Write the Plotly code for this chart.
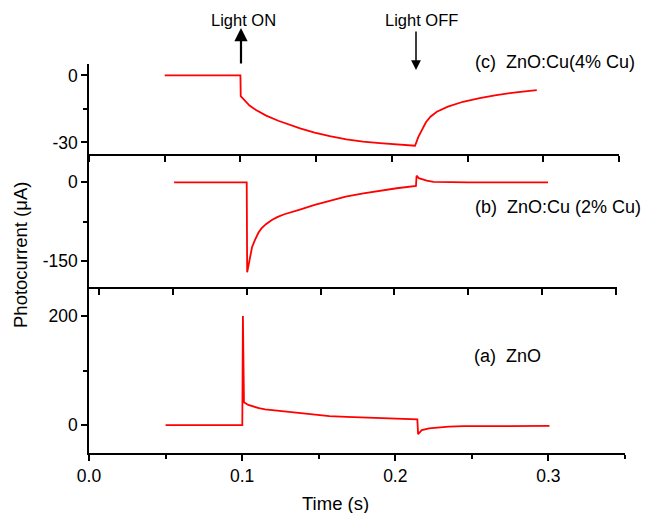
import plotly.graph_objects as go

# ---- data ----
# (a) ZnO
t_a = [0.05, 0.1001, 0.1005, 0.1012, 0.104, 0.1073, 0.111, 0.115, 0.12, 0.125, 0.131, 0.1378,
       0.147, 0.157, 0.168, 0.179, 0.19, 0.201, 0.2144, 0.2149, 0.2173, 0.222, 0.227,
       0.235, 0.2445, 0.27, 0.3007]
i_a = [0, 0, 200, 42, 37, 33.6, 31, 29, 27.5, 26, 24.3, 22.6,
       19.5, 16.5, 15.2, 14, 12.8, 11.6, 10.4, -16.5, -9.2, -6, -4.3,
       -2.8, -1.8, -1.5, -1.5]
# (b) ZnO:Cu (2% Cu)
t_b = [0.0508, 0.1, 0.1003, 0.1012, 0.1022, 0.1036, 0.1056, 0.108, 0.110, 0.113, 0.117,
       0.121, 0.1255, 0.131, 0.136, 0.146, 0.156, 0.167, 0.179, 0.19, 0.2016, 0.2146, 0.2150,
       0.2165, 0.219, 0.2219, 0.2265, 0.235, 0.25, 0.304]
i_b = [0, 0, -172, -158, -142, -124, -110, -96, -88, -80, -72,
       -66, -61, -57, -52, -43, -35, -27.5, -21, -16, -11.4, -7, 12.6,
       8, 5, 3, 0.8, 0.2, 0, 0]
# (c) ZnO:Cu (4% Cu)
t_c = [0.05, 0.1, 0.1002, 0.103, 0.106, 0.1103, 0.117, 0.125, 0.1394, 0.149, 0.159, 0.17,
       0.181, 0.192, 0.2034, 0.2153, 0.2175, 0.2198, 0.2225, 0.2255, 0.2297, 0.237, 0.247,
       0.258, 0.269, 0.282, 0.2957]
i_c = [0, 0, -9.3, -11.5, -13.5, -15.5, -18, -20.3, -23.7, -25.6, -27.2, -28.6,
       -29.7, -30.3, -30.8, -31.5, -27.5, -24.5, -21, -18.5, -16.3, -14, -11.8,
       -10.2, -8.8, -7.6, -6.6]

x_ticks = [0.0, 0.1, 0.2, 0.3]
x_tick_labels = ["0.0", "0.1", "0.2", "0.3"]
ya_ticks, ya_labels = [0, 200], ["0", "200"]
yb_ticks, yb_labels = [-150, 0], ["-150", "0"]
yc_ticks, yc_labels = [-30, 0], ["-30", "0"]

FONT = "Liberation Sans, Arial, sans-serif"
RED = "#FF0000"

fig = go.Figure()
fig.add_trace(go.Scatter(x=t_a, y=i_a, mode="lines", line=dict(color=RED, width=1.8),
                         xaxis="x", yaxis="y", showlegend=False))
fig.add_trace(go.Scatter(x=t_b, y=i_b, mode="lines", line=dict(color=RED, width=1.8),
                         xaxis="x2", yaxis="y2", showlegend=False))
fig.add_trace(go.Scatter(x=t_c, y=i_c, mode="lines", line=dict(color=RED, width=1.8),
                         xaxis="x3", yaxis="y3", showlegend=False))

ax_common = dict(showline=True, linecolor="black", linewidth=1.5, showgrid=False,
                 zeroline=False, ticks="outside", tickcolor="black", tickwidth=1.5,
                 ticklen=6, tickfont=dict(family=FONT, size=17.5, color="black"))
minor_common = dict(ticks="outside", ticklen=4, tickwidth=1.5, tickcolor="black")

ya_dom = [0, 0.4267]
yb_dom = [0.4267, 0.7686]
yc_dom = [0.7686, 1.0]

fig.update_layout(
    width=662, height=513,
    margin=dict(l=89, r=37, t=64, b=60),
    paper_bgcolor="white", plot_bgcolor="white",
    font=dict(family=FONT, color="black"),
    xaxis=dict(**ax_common, domain=[0, 1], range=[0, 0.35], anchor="y",
               tickvals=x_ticks, ticktext=x_tick_labels,
               minor=dict(dtick=0.05, tick0=0, **minor_common)),
    xaxis2=dict(**ax_common, domain=[0, 0.985], range=[-0.0068, 0.3507], anchor="y2",
                showticklabels=False, dtick=0.05, tick0=0),
    xaxis3=dict(**ax_common, domain=[0, 0.9888], range=[0, 0.35], anchor="y3",
                showticklabels=False, dtick=0.05, tick0=0),
    yaxis=dict(**ax_common, domain=ya_dom, range=[-51, 253], anchor="x",
               tickvals=ya_ticks, ticktext=ya_labels,
               minor=dict(dtick=100, tick0=0, **minor_common)),
    yaxis2=dict(**ax_common, domain=yb_dom, range=[-200, 54], anchor="x2",
                tickvals=yb_ticks, ticktext=yb_labels,
                minor=dict(dtick=75, tick0=0, **minor_common)),
    yaxis3=dict(**ax_common, domain=yc_dom, range=[-35.2, 5.1], anchor="x3",
                tickvals=yc_ticks, ticktext=yc_labels,
                minor=dict(dtick=15, tick0=0, **minor_common)),
)

ann = []
lab_font = dict(family=FONT, size=18, color="black")
ann.append(dict(text="(c)\u00a0\u00a0ZnO:Cu(4% Cu)", xref="paper", yref="paper", x=0.716, y=1.005,
                xanchor="left", yanchor="middle", showarrow=False, font=lab_font))
ann.append(dict(text="(b)\u00a0\u00a0ZnO:Cu (2% Cu)", xref="paper", yref="paper", x=0.716, y=0.633,
                xanchor="left", yanchor="middle", showarrow=False, font=lab_font))
ann.append(dict(text="(a)\u00a0\u00a0ZnO", xref="paper", yref="paper", x=0.714, y=0.249,
                xanchor="left", yanchor="middle", showarrow=False, font=lab_font))
ann.append(dict(text="Light ON", xref="paper", yref="paper", x=(243.7 - 89) / 536,
                y=(453 - 20) / 389, xanchor="center", yanchor="middle", showarrow=False,
                font=dict(family=FONT, size=16.5, color="black")))
ann.append(dict(text="Light OFF", xref="paper", yref="paper", x=(421.7 - 89) / 536,
                y=(453 - 20) / 389, xanchor="center", yanchor="middle", showarrow=False,
                font=dict(family=FONT, size=16.5, color="black")))
# arrows
ann.append(dict(text="", xref="paper", yref="paper", x=(241 - 89) / 536, y=(453 - 28) / 389,
                ax=0, ay=37, showarrow=True, arrowhead=2, arrowsize=1.2, arrowwidth=2.2,
                arrowcolor="black"))
ann.append(dict(text="", xref="paper", yref="paper", x=(416 - 89) / 536, y=(453 - 70) / 389,
                ax=0, ay=-40, showarrow=True, arrowhead=2, arrowsize=1.3, arrowwidth=1.5,
                arrowcolor="black"))
# axis titles
ann.append(dict(text="Photocurrent (μA)", xref="paper", yref="paper", x=(20 - 89) / 536,
                y=(453 - 255) / 389, xanchor="center", yanchor="middle", textangle=-90,
                showarrow=False, font=dict(family=FONT, size=18.5, color="black")))
ann.append(dict(text="Time (s)", xref="paper", yref="paper", x=(335.5 - 89) / 536,
                y=(453 - 503) / 389, xanchor="center", yanchor="middle",
                showarrow=False, font=dict(family=FONT, size=18.5, color="black")))
fig.update_layout(annotations=ann)

fig.write_html("out.html", config={"displayModeBar": False},
               post_script="document.body.style.margin='0';")
